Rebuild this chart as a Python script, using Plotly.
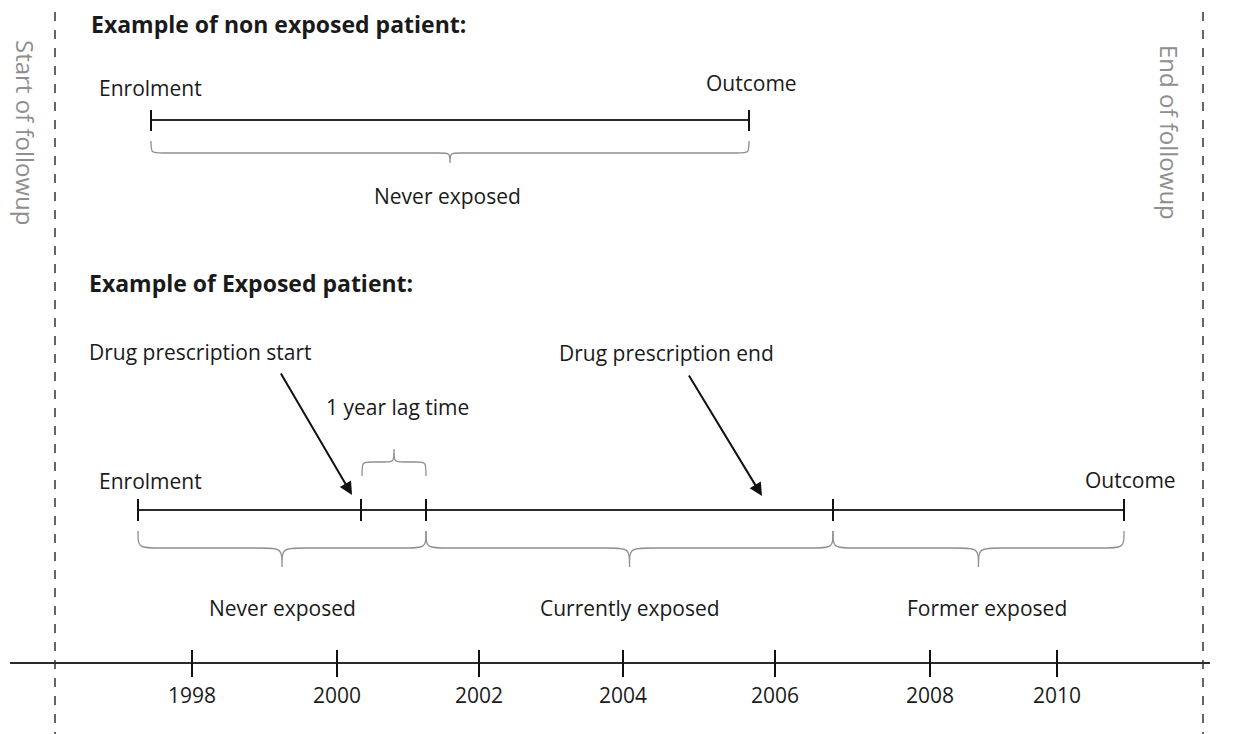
import plotly.graph_objects as go

# ---------------- data ----------------
years = [1998, 2000, 2002, 2004, 2006, 2008, 2010]
year_pos = [192, 337, 479, 623, 775, 930, 1057]

followup_labels = ["Start of followup", "End of followup"]
followup_pos = [55, 1203]

p1_events = ["Enrolment", "Outcome"]
p1_pos = [151, 749]
p1_periods = ["Never exposed"]

p2_events = ["Enrolment", "Drug start", "Lag end", "Drug end", "Outcome"]
p2_pos = [138, 361, 426, 833, 1124]
p2_periods = ["Never exposed", "Currently exposed", "Former exposed"]
p2_period_bounds = [(138, 426), (426, 833), (833, 1124)]

# ---------------- layout constants ----------------
W, H = 1238, 734
OFF = 8          # page body margin of the html page
FONT = "Open Sans"
FS = 21
Y1 = 120     # row of patient 1
Y2 = 510     # row of patient 2
YAX = 663    # bottom time axis
DARK = "#2b2b2b"
GRAY = "#8f8f8f"

fig = go.Figure()
shapes = []
ann = []


def brace(x1, x2, y0, ym, yt, r):
    """curly brace path; ends at y0, flat at ym, tip at yt"""
    xm = (x1 + x2) / 2
    return (f"M {x1},{y0} C {x1},{ym} {x1},{ym} {x1 + r},{ym} "
            f"L {xm - r},{ym} C {xm},{ym} {xm},{ym} {xm},{yt} "
            f"C {xm},{ym} {xm},{ym} {xm + r},{ym} "
            f"L {x2 - r},{ym} C {x2},{ym} {x2},{ym} {x2},{y0}")


def line(x0, y0, x1, y1, color=DARK, width=2, dash=None):
    shapes.append(dict(type="line", x0=x0, y0=y0, x1=x1, y1=y1, xref="x", yref="y",
                       line=dict(color=color, width=width, dash=dash)))


def text(t, x, y, size=FS, color="#1a1a1a", xanchor="center", bold=False, angle=0):
    ann.append(dict(text=f"<b>{t}</b>" if bold else t, x=x, y=y, xref="x", yref="y",
                    showarrow=False, xanchor=xanchor, yanchor="middle", textangle=angle,
                    borderpad=0,
                    font=dict(family=FONT, size=size, color=color)))


# follow-up dashed lines
for lab, xp, tx in zip(followup_labels, followup_pos, [26, 1170]):
    line(xp, 12, xp, H, color="#333333", width=1.5, dash="dash")
    text(lab, tx, 132, size=24, color=GRAY, angle=90)

# ---- patient 1 ----
text("Example of non exposed patient:", 90, 24, size=23, bold=True, xanchor="left")
line(p1_pos[0], Y1, p1_pos[-1], Y1, width=1.8)
for xp in p1_pos:
    line(xp, Y1 - 10, xp, Y1 + 11, color="#111", width=2)
text(p1_events[0], p1_pos[0] - 1, 88)
text(p1_events[1], p1_pos[1] + 2, 83)
shapes.append(dict(type="path", path=brace(p1_pos[0], p1_pos[1], 141, 153, 163, 12),
                   line=dict(color=GRAY, width=1.3)))
text(p1_periods[0], (p1_pos[0] + p1_pos[1]) / 2 - 3, 196)

# ---- patient 2 ----
text("Example of Exposed patient:", 88, 283, size=23, bold=True, xanchor="left")
line(p2_pos[0], Y2, p2_pos[-1], Y2, width=1.8)
for xp in p2_pos:
    line(xp, Y2 - 11, xp, Y2 + 11, color="#111", width=2)
text(p2_events[0], p2_pos[0] + 12, 481)
text(p2_events[-1], p2_pos[-1] + 6, 480)
text("Drug prescription start", 88, 352, xanchor="left")
text("Drug prescription end", 558, 353, xanchor="left")
text("1 year lag time", 325, 407, xanchor="left")

# arrows
for (tx, ty), (hx, hy) in [((280, 372), (352, 495)), ((688, 374), (762, 496))]:
    ann.append(dict(x=hx, y=hy, ax=tx, ay=ty, xref="x", yref="y", axref="x", ayref="y",
                    text="", showarrow=True, arrowhead=2, arrowsize=1.3, arrowwidth=2,
                    arrowcolor="#111"))

# lag brace (upward)
shapes.append(dict(type="path", path=brace(p2_pos[1] + 1, p2_pos[2], 476, 462, 449, 10),
                   line=dict(color=GRAY, width=1.3)))

# period braces + labels
for lab, (a, b) in zip(p2_periods, p2_period_bounds):
    shapes.append(dict(type="path", path=brace(a, b, 531, 548, 567, 24),
                       line=dict(color=GRAY, width=1.3)))
    text(lab, (a + b) / 2 + (0 if lab != "Former exposed" else 8), 608)

# ---- bottom time axis ----
line(10, YAX, 1210, YAX, width=2)
for yr, xp in zip(years, year_pos):
    line(xp, YAX - 13, xp, YAX + 14, color="#111", width=2)
    text(str(yr), xp, 695)

fig.update_layout(
    width=W - OFF, height=H - OFF, margin=dict(l=0, r=0, t=0, b=0),
    paper_bgcolor="white", plot_bgcolor="white", showlegend=False,
    xaxis=dict(range=[OFF, W], visible=False, fixedrange=True),
    yaxis=dict(range=[H, OFF], visible=False, fixedrange=True),
    shapes=shapes, annotations=ann,
)
fig.write_html("out.html")
